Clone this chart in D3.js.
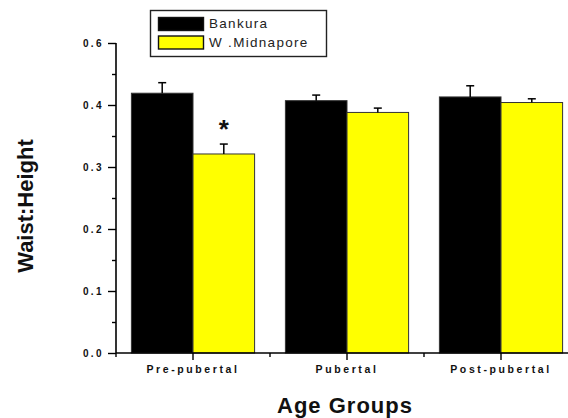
<!DOCTYPE html>
<html>
<head>
<meta charset="utf-8">
<script src="https://cdn.jsdelivr.net/npm/d3@7"></script>
<style>
  html, body { margin: 0; padding: 0; background: #fff; }
  svg { display: block; font-family: "Liberation Sans", Arial, sans-serif; }
</style>
</head>
<body>
<svg id="chart" width="568" height="418"></svg>
<script>
// Waist:Height ratio by age group, two districts
const categories = ["Pre-pubertal", "Pubertal", "Post-pubertal"];
const seriesNames = ["Bankura", "W .Midnapore"];
const bankura = [0.419, 0.407, 0.413];
const bankuraErr = [0.017, 0.009, 0.018];
const bankuraSig = [false, false, false];
const midnapore = [0.321, 0.388, 0.404];
const midnaporeErr = [0.016, 0.007, 0.006];
const midnaporeSig = [true, false, false];
const yTickValues = [0.0, 0.1, 0.2, 0.3, 0.4, 0.5];
const yTickLabels = ["0.0", "0.1", "0.2", "0.3", "0.4", "0.6"];
const yMinorValues = [0.05, 0.15, 0.25, 0.35, 0.45];

const colors = ["#000000", "#ffff00"];
const values = [bankura, midnapore];
const errors = [bankuraErr, midnaporeErr];
const sigs = [bankuraSig, midnaporeSig];

const svg = d3.select("#chart");

const x = d3.scaleBand()
  .domain(categories)
  .range([116, 578])
  .paddingInner(0.2)
  .paddingOuter(0.1);

const xSub = d3.scaleBand()
  .domain(d3.range(seriesNames.length))
  .range([0, x.bandwidth()]);

const y = d3.scaleLinear().domain([0, 0.5]).range([353, 43]);

// bars with error bars (upper side only)
const rows = [];
categories.forEach((c, i) => {
  values.forEach((vals, s) => {
    rows.push({ cat: c, s, v: vals[i], e: errors[s][i], sig: sigs[s][i] });
  });
});

const bars = svg.append("g");
bars.selectAll("rect")
  .data(rows)
  .join("rect")
  .attr("x", d => x(d.cat) + xSub(d.s))
  .attr("y", d => y(d.v))
  .attr("width", xSub.bandwidth())
  .attr("height", d => y(0) - y(d.v))
  .attr("fill", d => colors[d.s])
  .attr("stroke", "#333")
  .attr("stroke-width", 1);

const err = svg.append("g").attr("stroke", "#000").attr("stroke-width", 1.5);
rows.forEach(d => {
  const cx = x(d.cat) + xSub(d.s) + xSub.bandwidth() / 2;
  err.append("line").attr("x1", cx).attr("x2", cx).attr("y1", y(d.v)).attr("y2", y(d.v + d.e));
  err.append("line").attr("x1", cx - 4).attr("x2", cx + 4).attr("y1", y(d.v + d.e)).attr("y2", y(d.v + d.e));
});

// significance marker
svg.append("g").selectAll("text")
  .data(rows.filter(d => d.sig))
  .join("text")
  .attr("x", d => x(d.cat) + xSub(d.s) + xSub.bandwidth() / 2)
  .attr("y", d => y(d.v + d.e) - 6)
  .attr("text-anchor", "middle")
  .attr("font-size", 26)
  .attr("font-weight", "bold")
  .attr("fill", "#111")
  .text("*");

// y axis
const yAxis = svg.append("g").attr("transform", "translate(116,0)")
  .call(d3.axisLeft(y).tickValues(yTickValues).tickSize(8).tickPadding(4)
    .tickFormat((d, i) => yTickLabels[i]));
yAxis.select(".domain").attr("d", `M0,${y(0.5)}V${y(0)}`).attr("stroke-width", 1.6);
yAxis.selectAll(".tick line").attr("stroke-width", 1.4);
yAxis.selectAll(".tick text")
  .attr("font-size", 10).attr("font-weight", "bold").attr("fill", "#111")
  .attr("font-family", "'Liberation Sans', Arial, sans-serif")
  .style("letter-spacing", "2.4px");

svg.append("g").attr("transform", "translate(116,0)")
  .call(d3.axisLeft(y).tickValues(yMinorValues).tickSize(4).tickFormat(""))
  .call(g => g.select(".domain").remove())
  .selectAll(".tick line").attr("stroke-width", 1.4);

// x axis
const xAxis = svg.append("g").attr("transform", `translate(0,${y(0)})`)
  .call(d3.axisBottom(x).tickSize(7).tickPadding(4).tickSizeOuter(0));
xAxis.select(".domain").attr("d", "M116,0H578").attr("stroke-width", 1.6);
xAxis.selectAll(".tick line").attr("stroke-width", 1.4);
xAxis.selectAll(".tick text")
  .attr("font-size", 10.5).attr("font-weight", "bold").attr("fill", "#111")
  .attr("font-family", "'Liberation Sans', Arial, sans-serif")
  .attr("dy", "0.85em")
  .style("letter-spacing", "2.6px");

// minor x ticks at group boundaries
const bounds = [116].concat(categories.map(c => x(c) + x.bandwidth() + x.step() * x.paddingInner() / 2));
svg.append("g").attr("stroke", "#000").attr("stroke-width", 1.4)
  .selectAll("line").data(bounds).join("line")
  .attr("x1", d => d).attr("x2", d => d)
  .attr("y1", y(0)).attr("y2", y(0) + 4);

// axis titles
svg.append("text")
  .attr("transform", `translate(33,${(135 + 277) / 2}) rotate(-90)`)
  .attr("text-anchor", "middle")
  .attr("font-size", 22).attr("font-weight", "bold").attr("fill", "#111")
  .text("Waist:Height");

svg.append("text")
  .attr("x", 345).attr("y", 413)
  .attr("text-anchor", "middle")
  .attr("font-size", 22).attr("font-weight", "bold").attr("fill", "#111")
  .style("letter-spacing", "1px")
  .text("Age Groups");

// legend
const legend = svg.append("g");
legend.append("rect")
  .attr("x", 150.5).attr("y", 10.5).attr("width", 176).attr("height", 46)
  .attr("fill", "#fff").attr("stroke", "#222").attr("stroke-width", 1.4);
seriesNames.forEach((name, i) => {
  const yy = 17.5 + i * 18.5;
  legend.append("rect")
    .attr("x", 158.5).attr("y", yy).attr("width", 45).attr("height", 13)
    .attr("fill", colors[i]).attr("stroke", "#111").attr("stroke-width", 1.4);
  legend.append("text")
    .attr("x", 209).attr("y", yy + 10.5)
    .attr("font-size", 13.5).attr("fill", "#222")
    .style("letter-spacing", "1.3px")
    .text(name);
});
</script>
</body>
</html>
